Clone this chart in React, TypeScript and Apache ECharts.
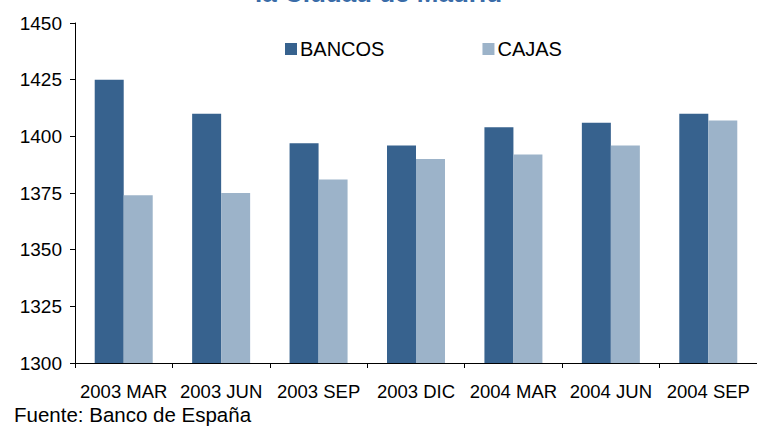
import React, { useEffect, useRef } from "react";
import * as echarts from "echarts";

const categories = ["2003 MAR", "2003 JUN", "2003 SEP", "2003 DIC", "2004 MAR", "2004 JUN", "2004 SEP"];
const bancos = [1425, 1410, 1397, 1396, 1404, 1406, 1410];
const cajas = [1374, 1375, 1381, 1390, 1392, 1396, 1407];
const titleText = "la Ciudad de Madrid";
const sourceText = "Fuente: Banco de España";

const FONT = "Liberation Sans, Arial, sans-serif";

export default function App() {
  const ref = useRef<HTMLDivElement>(null);
  useEffect(() => {
    if (!ref.current) return;
    const chart = echarts.init(ref.current, undefined, { renderer: "svg" });
    chart.setOption({
      animation: false,
      backgroundColor: "#ffffff",
      textStyle: { fontFamily: FONT },
      grid: { left: 75, top: 23, width: 686, bottom: 66, containLabel: false },
      legend: {
        top: 34,
        left: 280,
        itemGap: 98,
        itemWidth: 12,
        itemHeight: 12,
        icon: "rect",
        textStyle: { fontSize: 20, color: "#000", fontFamily: FONT, padding: [0, 0, 0, -2] },
        data: ["BANCOS", "CAJAS"],
      },
      xAxis: {
        type: "category",
        data: categories,
        axisLine: { lineStyle: { color: "#000", width: 1 } },
        axisTick: { show: true, length: 5, lineStyle: { color: "#000" } },
        axisLabel: { fontSize: 18.5, color: "#000", margin: 19, interval: 0, fontFamily: FONT },
      },
      yAxis: {
        type: "value",
        min: 1300,
        max: 1450,
        interval: 25,
        splitLine: { show: false },
        axisLine: { show: true, lineStyle: { color: "#000", width: 1 } },
        axisTick: { show: true, length: 5, lineStyle: { color: "#000" } },
        axisLabel: {
          fontSize: 19,
          color: "#000",
          margin: 13,
          fontFamily: FONT,
          formatter: (v: number) => String(v),
        },
      },
      series: [
        {
          name: "BANCOS",
          type: "bar",
          data: bancos,
          barWidth: 29,
          barGap: "0%",
          itemStyle: { color: "#37628E" },
        },
        {
          name: "CAJAS",
          type: "bar",
          data: cajas,
          barWidth: 29,
          barGap: "0%",
          itemStyle: { color: "#9CB3C9" },
        },
      ],
      graphic: [
        {
          type: "text",
          left: "center",
          top: -20,
          style: { text: titleText, fontSize: 26, fontWeight: "bold", fill: "#3A6CA8", fontFamily: FONT },
        },
        {
          type: "text",
          left: 14,
          top: 404,
          style: { text: sourceText, fontSize: 20.5, fill: "#000", fontFamily: FONT },
        },
      ],
    });
    return () => chart.dispose();
  }, []);
  return (
    <div
      ref={ref}
      style={{ position: "fixed", left: 0, top: 0, width: 757, height: 429 }}
    />
  );
}
